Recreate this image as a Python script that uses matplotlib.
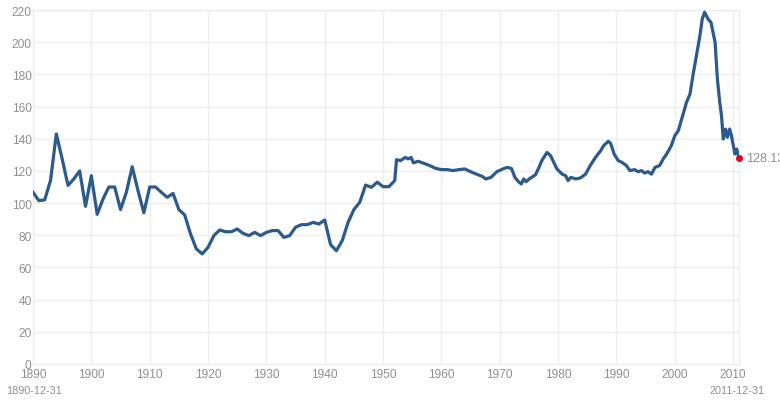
import matplotlib
matplotlib.use("Agg")
import matplotlib.pyplot as plt

plt.rcParams['font.family'] = ['Liberation Sans', 'DejaVu Sans']

years = [1890, 1891, 1892, 1893, 1894, 1895, 1896, 1897, 1898, 1899,
         1900, 1901, 1902, 1903, 1904, 1905, 1906, 1907, 1908, 1909,
         1910, 1911, 1912, 1913, 1914, 1915, 1916, 1917, 1918, 1919,
         1920, 1921, 1922, 1923, 1924, 1925, 1926, 1927, 1928, 1929,
         1930, 1931, 1932, 1933, 1934, 1935, 1936, 1937, 1938, 1939,
         1940, 1941, 1942, 1943, 1944, 1945, 1946, 1947, 1948, 1949,
         1950, 1951, 1952,
         1952.3, 1953, 1953.8, 1954.3, 1954.8, 1955.2, 1956, 1957, 1958, 1959,
         1960, 1961, 1962, 1963, 1964, 1965, 1966, 1967, 1967.6, 1968.5,
         1969.5, 1970.5, 1971.3, 1972.0, 1972.6, 1973.2, 1973.7, 1974.1, 1974.5, 1975.2,
         1976.1, 1976.6, 1977.2, 1978.1, 1978.7, 1979.3, 1979.8, 1980.7, 1981.3, 1981.7,
         1982.2, 1983.0, 1983.8, 1984.7, 1985.5, 1986.4, 1987.3, 1987.8, 1988.6, 1989.0,
         1989.6, 1990.3, 1990.9, 1991.7, 1992.3, 1993.1, 1993.7, 1994.3, 1994.8, 1995.4,
         1996.0, 1996.6, 1997.4, 1998.0, 1998.6, 1999.4, 2000.0, 2000.6, 2001.1, 2002.0,
         2002.6, 2003.1, 2003.7, 2004.3, 2004.7, 2005.1, 2005.7, 2006.2, 2006.9, 2007.3,
         2007.7, 2008.0, 2008.3, 2008.7, 2009.0, 2009.4, 2009.7, 2010.3, 2010.6, 2011.0]

index = [106.7, 101.5, 102, 114, 143, 127.4, 111, 115, 120, 98,
         117, 93, 102.5, 110, 110, 96, 106.7, 122.6, 107.7, 94,
         110, 110, 106.7, 103.6, 106, 96, 92.6, 80.8, 71.5, 68.4,
         72.5, 79.8, 83.3, 82.2, 82.2, 83.9, 81.2, 79.8, 81.8, 79.8,
         81.8, 82.9, 82.9, 78.7, 79.8, 85, 86.6, 86.6, 88, 87,
         89.5, 74.2, 70.4, 76.7, 88, 96, 100.5, 111.2, 109.8, 113,
         110.2, 110.2, 114,
         127, 126.4, 128.4, 127.5, 128.4, 125, 126, 124.7, 123.3, 121.6,
         120.8, 120.8, 120.2, 120.8, 121.2, 119.5, 118, 116.6, 115, 116,
         119.5, 121.2, 122.2, 121.5, 116, 113.3, 111.9, 115, 113.3, 115.4,
         117.5, 121.2, 126.4, 131.5, 129.5, 125, 121.2, 118, 117, 114,
         116, 115, 115.6, 118, 123.3, 128.4, 132.6, 135.7, 138.4, 137.1,
         130.5, 126.4, 125.4, 123.3, 120.2, 120.8, 119.5, 120.2, 118.7, 119.5,
         118, 122.2, 123.3, 127.4, 130.5, 135.7, 141.9, 145, 151.2, 162.6,
         167.8, 179.2, 191.6, 204, 214.4, 218.6, 214.4, 212.3, 200, 177,
         162.6, 154.3, 139.8, 146, 140.9, 146, 141.9, 130.5, 133.6, 128.13]

x_ticks = list(range(1890, 2011, 10))
y_ticks = list(range(0, 221, 20))
start_label = "1890-12-31"
end_label = "2011-12-31"
last_label = "128.13"

grid_c = '#ececf3'
text_c = '#8f8f8f'
line_c = '#2d5a8e'

fig = plt.figure(figsize=(7.8, 4.02), dpi=100)
ax = fig.add_axes([33/780, 1-365/402, (739-33)/780, (365-11)/402])

ax.plot(years, index, color=line_c, lw=2.3, solid_joinstyle='round', zorder=3)
ax.scatter([years[-1]], [index[-1]], s=16, color='#e8001c', zorder=4, clip_on=False)
ax.annotate(last_label, (years[-1], index[-1]), xytext=(5, 0), textcoords='offset points',
            color=text_c, fontsize=9, va='center', ha='left', annotation_clip=False)

ax.set_xlim(1890, 2011)
ax.set_ylim(0, 220)
ax.set_xticks(x_ticks)
ax.set_yticks(y_ticks)
ax.grid(True, color=grid_c, lw=1)
ax.set_axisbelow(True)
for s in ax.spines.values():
    s.set_color(grid_c)
    s.set_linewidth(1)
ax.tick_params(length=0, colors=text_c, labelsize=8.6)
ax.tick_params(axis='x', pad=3)
ax.tick_params(axis='y', pad=1)

fig.text(6/780, 1-391/402, start_label, color=text_c, fontsize=7.8, ha='left', va='center')
fig.text(765/780, 1-391/402, end_label, color=text_c, fontsize=7.8, ha='right', va='center')

fig.savefig('out.png', dpi=100)
